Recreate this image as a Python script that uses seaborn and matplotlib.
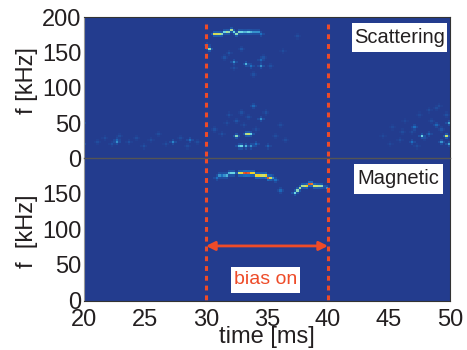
import numpy as np
import seaborn as sns
import matplotlib.pyplot as plt
from matplotlib.colors import LinearSegmentedColormap
from matplotlib.patches import Rectangle
from matplotlib.transforms import ScaledTranslation

# values: time [ms], f [kHz], level 0..1
scat_ridge_t = [30.6, 30.8, 31.0, 31.2, 31.4, 31.6, 31.8, 32.0, 32.2, 32.4, 32.6, 32.8, 33.0, 33.2, 33.4, 33.6, 33.8, 34.0, 34.2, 34.4]
scat_ridge_f = [175, 175, 175, 175, 176, 177, 178, 179, 178, 175, 176, 178, 178, 178, 178, 177, 176, 176, 176, 175]
scat_ridge_v = [0.65, 0.65, 0.6, 0.5, 0.45, 0.55, 0.5, 0.55, 0.45, 0.5, 0.5, 0.45, 0.4, 0.4, 0.45, 0.4, 0.35, 0.35, 0.35, 0.3]

scat_spot_t = [30.1, 30.0, 32.2, 33.3, 33.5, 34.4, 34.5, 32.4, 33.2, 33.4, 33.6, 32.6, 32.9, 33.2, 33.6, 34.0, 35.0, 28.7, 34.4, 33.7, 33.9, 22.7, 22.6, 27.2, 49.7, 47.6, 49.9, 50.0, 47.0, 48.3, 49.2, 48.8, 46.8]
scat_spot_f = [154, 160, 135, 132, 130, 130, 137, 31, 33, 33, 34, 15, 15, 16, 16, 17, 15, 23, 53, 71, 73, 21, 24, 20, 29, 31, 49, 18, 43, 34, 20, 45, 22]
scat_spot_v = [0.5, 0.3, 0.35, 0.4, 0.3, 0.35, 0.25, 0.5, 0.55, 0.6, 0.45, 0.4, 0.45, 0.4, 0.35, 0.3, 0.22, 0.3, 0.35, 0.25, 0.22, 0.35, 0.25, 0.33, 0.6, 0.45, 0.38, 0.38, 0.3, 0.25, 0.35, 0.25, 0.3]

scat_haze_t = [21.0, 21.6, 22.2, 22.9, 23.5, 24.1, 24.8, 25.4, 26.0, 26.6, 27.8, 28.4, 29.2, 30.6, 31.1, 31.5, 31.9, 32.5, 32.8, 33.0, 33.4, 34.0, 34.8, 35.5, 36.0, 36.5, 31.4, 31.9, 32.3, 32.9, 33.8, 34.6, 35.2, 36.2, 37.4, 44.5, 45.2, 45.8, 46.3, 46.9, 47.4, 47.9, 48.4, 48.8, 49.3, 49.6, 45.0, 46.0, 47.2, 48.2, 49.0]
scat_haze_f = [20, 26, 18, 30, 22, 27, 14, 23, 34, 18, 28, 16, 22, 40, 32, 48, 60, 52, 64, 44, 58, 40, 62, 30, 46, 24, 140, 148, 125, 152, 118, 142, 128, 150, 170, 30, 42, 24, 50, 36, 60, 26, 52, 68, 40, 60, 18, 36, 16, 66, 72]
scat_haze_v = [0.1, 0.1, 0.12, 0.1, 0.13, 0.1, 0.12, 0.1, 0.1, 0.1, 0.1, 0.1, 0.1, 0.12, 0.12, 0.1, 0.12, 0.15, 0.12, 0.1, 0.12, 0.1, 0.12, 0.1, 0.1, 0.1, 0.13, 0.15, 0.12, 0.15, 0.12, 0.13, 0.12, 0.1, 0.1, 0.08, 0.08, 0.1, 0.08, 0.1, 0.08, 0.12, 0.1, 0.1, 0.14, 0.12, 0.08, 0.1, 0.1, 0.1, 0.1]

mag_ridge_t = [30.8, 31.0, 31.2, 31.4, 31.6, 31.8, 32.0, 32.2, 32.6, 32.8, 33.0, 33.2, 33.4, 33.6, 33.8, 34.0, 34.2, 34.4, 34.6, 34.8, 35.0, 35.2, 35.4, 35.6, 36.0, 37.2, 37.4, 37.6, 37.8, 38.0, 38.2, 38.4, 38.6, 38.8, 39.0, 39.2, 39.4, 39.8]
mag_ridge_f = [172, 173, 174, 174, 175, 176, 177, 178, 178, 178, 177, 177, 177, 176, 176, 175, 175, 174, 173, 173, 172, 171, 170, 168, 153, 149, 154, 157, 159, 160, 160, 161, 161, 160, 158, 158, 158, 156]
mag_ridge_v = [0.3, 0.35, 0.3, 0.35, 0.4, 0.4, 0.45, 0.45, 0.6, 0.7, 0.95, 1.0, 0.95, 0.75, 0.72, 0.7, 0.72, 0.65, 0.6, 0.75, 0.95, 0.65, 0.35, 0.3, 0.25, 0.45, 0.5, 0.55, 0.55, 0.6, 0.75, 0.95, 0.9, 0.6, 0.6, 0.55, 0.5, 0.35]

dt = 0.2
df = 3.0
times = np.arange(20, 50, dt)
freqs = np.arange(0, 200, df)
tick_times = [20, 25, 30, 35, 40, 45, 50]
tick_freqs_top = [0, 50, 100, 150, 200]
tick_freqs_low = [0, 50, 100, 150]

def spectrogram(t_lists, f_lists, v_lists):
    grid = np.zeros((len(freqs), len(times)))
    for ts, fs, vs in zip(t_lists, f_lists, v_lists):
        for t, f, v in zip(ts, fs, vs):
            i = min(int(round(f / df)), len(freqs) - 1)
            j = min(int(round((t - 20) / dt)), len(times) - 1)
            grid[i, j] = max(grid[i, j], v)
    # soft edge around every cell, the original is a blurry scan
    halo = np.maximum.reduce([np.roll(grid, 1, 0), np.roll(grid, -1, 0), np.roll(grid, 1, 1), np.roll(grid, -1, 1)])
    return np.maximum(grid, halo * 0.3)

top = spectrogram([scat_ridge_t, scat_spot_t, scat_haze_t], [scat_ridge_f, scat_spot_f, scat_haze_f], [scat_ridge_v, scat_spot_v, scat_haze_v])
low = spectrogram([mag_ridge_t], [mag_ridge_f], [mag_ridge_v])

cmap = LinearSegmentedColormap.from_list("spec", [(0, "#233c8e"), (0.3, "#1c6fc0"), (0.45, "#6ad4e4"), (0.6, "#c8e070"), (0.75, "#f5d020"), (1, "#e0402a")])
plt.rcParams['font.family'] = ['Liberation Sans', 'DejaVu Sans']
red = "#ee4b28"
txt = "#231f20"
W, H = 467, 350

def tx(t):
    return (t - 20) / dt

def fy(f):
    return f / df

fig = plt.figure(figsize=(4.67, 3.5), dpi=100)
ax1 = fig.add_axes([84 / W, 1 - 158 / H, 366 / W, 141 / H])
ax2 = fig.add_axes([84 / W, 1 - 301 / H, 366 / W, 143 / H])

for ax, grid, yt, shift in [(ax1, top, tick_freqs_top, 3), (ax2, low, tick_freqs_low, 2)]:
    sns.heatmap(grid, ax=ax, cmap=cmap, vmin=0, vmax=1, cbar=False, rasterized=True)
    ax.set_xlim(0, len(times))
    ax.set_ylim(0, 200 / df)
    ax.set_yticks([fy(f) for f in yt])
    ax.set_yticklabels([str(f) for f in yt], rotation=0, fontsize=17, color=txt)
    ax.tick_params(axis='y', length=0, pad=2)
    for lab in ax.get_yticklabels():
        lab.set_transform(lab.get_transform() + ScaledTranslation(0, -shift / 100, fig.dpi_scale_trans))
    for s in ax.spines.values():
        s.set_visible(True)
        s.set_linewidth(0.8)
        s.set_color("#333333")
    ax.spines['left'].set_color("#999999")
    ax.set_ylabel("")

ax1.spines['bottom'].set_visible(False)
ax2.spines['top'].set_color("#555555")
ax2.spines['top'].set_linewidth(1.0)
ax1.set_xticks([])
ax1.set_xlabel("")
ax2.set_xticks([tx(t) for t in tick_times])
ax2.set_xticklabels([str(t) for t in tick_times], rotation=0, fontsize=17, color=txt)
ax2.tick_params(axis='x', length=0, pad=6)

fig.text(27 / W, 1 - 81 / H, "f [kHz]", rotation=90, ha='center', va='center', fontsize=17, color=txt)
fig.text(27 / W, 1 - 231 / H, "f  [kHz]", rotation=90, ha='center', va='center', fontsize=17, color=txt)
fig.text(267 / W, 1 - 337 / H, "time [ms]", ha='center', va='center', fontsize=17, color=txt)

# dashed markers at bias start and stop
for t in [30, 40]:
    ax1.plot([tx(t), tx(t)], [fy(190), 0], color=red, lw=2.2, ls=(0, (1.6, 1.6)), dash_capstyle='butt')
    ax2.plot([tx(t), tx(t)], [fy(200), 0], color=red, lw=2.2, ls=(0, (1.6, 1.6)), dash_capstyle='butt')

ax2.annotate("", xy=(tx(30), fy(77)), xytext=(tx(40), fy(77)),
             arrowprops=dict(arrowstyle='<|-|>', color=red, lw=2, mutation_scale=13, shrinkA=0, shrinkB=0))

# white label boxes, pixel edges
def label(x0, x1, y0, y1, s, color, size):
    fig.add_artist(Rectangle((x0 / W, 1 - y1 / H), (x1 - x0) / W, (y1 - y0) / H, transform=fig.transFigure,
                             facecolor='white', edgecolor='none', zorder=2))
    fig.text((x0 + x1) / 2 / W, 1 - (y0 + y1) / 2 / H, s, ha='center', va='center', fontsize=size, color=color, zorder=3)

label(231, 300, 267, 293, "bias on", red, 14)
label(352, 447, 23, 52, "Scattering", txt, 14.5)
label(354, 443, 164, 194, "Magnetic", txt, 14.5)

plt.savefig("out.png", dpi=100)
